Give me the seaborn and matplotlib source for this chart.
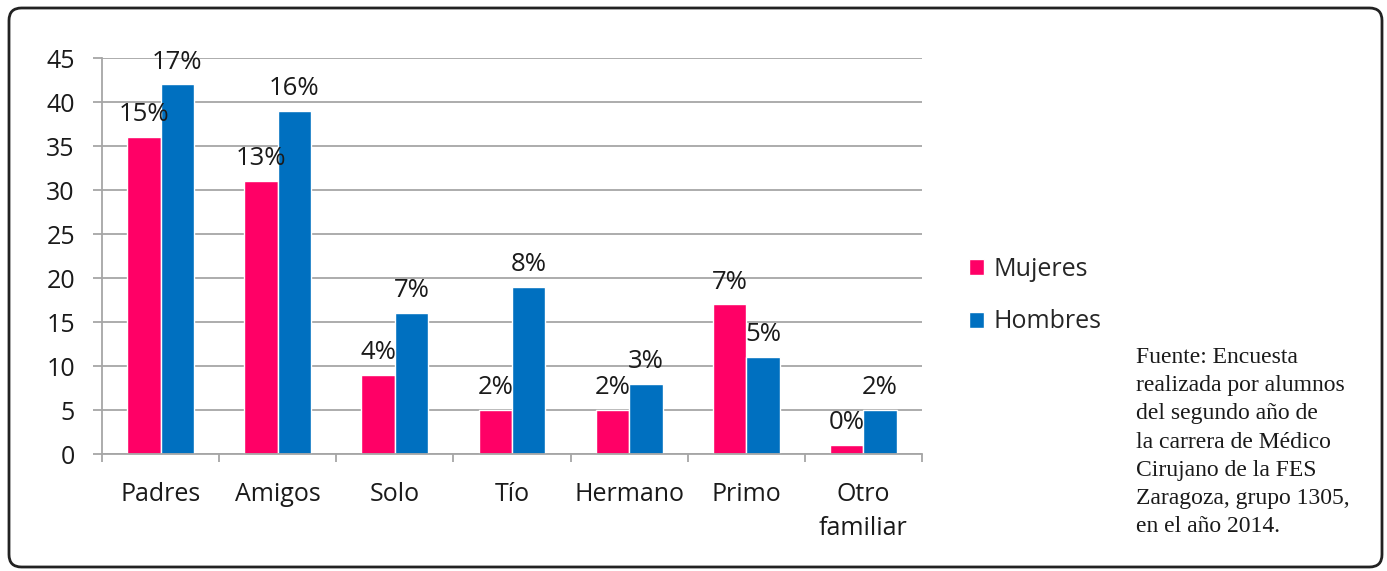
import pandas as pd
import matplotlib.pyplot as plt
import seaborn as sns
from matplotlib.patches import FancyBboxPatch

sns.set_theme(style='white')
plt.rcParams['font.family'] = ['Open Sans', 'DejaVu Sans']

categorias = ['Padres', 'Amigos', 'Solo', 'Tío', 'Hermano', 'Primo', 'Otro\nfamiliar']
mujeres = [36, 31, 9, 5, 5, 17, 1]
hombres = [42, 39, 16, 19, 8, 11, 5]
pct_mujeres = ['15%', '13%', '4%', '2%', '2%', '7%', '0%']
pct_hombres = ['17%', '16%', '7%', '8%', '3%', '5%', '2%']
series = ['Mujeres', 'Hombres']
colores = ['#FF0066', '#0070C0']
y_ticks = [0, 5, 10, 15, 20, 25, 30, 35, 40, 45]

fuente = ('Fuente: Encuesta\nrealizada por alumnos\ndel segundo año de\n'
          'la carrera de Médico\nCirujano de la FES\nZaragoza, grupo 1305,\n'
          'en el año 2014.')


def main():
    W, H = 1387, 571
    fig = plt.figure(figsize=(W / 100, H / 100), dpi=100)
    ax = fig.add_axes([102 / W, 1 - 454 / H, (922 - 102) / W, (454 - 58) / H])

    df = pd.DataFrame({
        'lugar': categorias * 2,
        'n': mujeres + hombres,
        'sexo': [series[0]] * len(categorias) + [series[1]] * len(categorias),
    })

    sns.barplot(data=df, x='lugar', y='n', hue='sexo', palette=colores,
                width=0.57, saturation=1, ax=ax, errorbar=None)

    for cont, labs in zip(ax.containers, [pct_mujeres, pct_hombres]):
        ax.bar_label(cont, labels=labs, padding=7, fontsize=18.5, color='#1a1a1a')

    ax.set_ylim(0, 45)
    ax.set_xlim(-0.5, len(categorias) - 0.5)
    ax.set_yticks(y_ticks)
    ax.set_xlabel('')
    ax.set_ylabel('')
    ax.grid(axis='y', color='#a6a6a6', linewidth=1.3)
    ax.set_axisbelow(True)
    for s in ['top', 'right']:
        ax.spines[s].set_visible(False)
    for s in ['left', 'bottom']:
        ax.spines[s].set_color('#a6a6a6')
        ax.spines[s].set_linewidth(1.3)

    ax.tick_params(axis='y', which='major', left=True, length=6.5, width=1.3,
                   color='#a6a6a6', pad=13, labelsize=18, labelcolor='#1a1a1a')
    ax.set_xticks([i + 0.5 for i in range(-1, len(categorias))], minor=True)
    ax.tick_params(axis='x', which='minor', bottom=True, length=6, width=1.3,
                   color='#a6a6a6')
    ax.tick_params(axis='x', which='major', bottom=False, length=0, pad=20,
                   labelsize=18, labelcolor='#1a1a1a')
    for lab in ax.get_xticklabels():
        lab.set_linespacing(1.48)

    handles, _ = ax.get_legend_handles_labels()
    ax.legend(handles, series, loc='upper left',
              bbox_to_anchor=(969 / W, 1 - 257 / H), bbox_transform=fig.transFigure,
              frameon=False, fontsize=18, handlelength=0.6, handleheight=0.6,
              handletextpad=0.4, labelspacing=1.1, borderpad=0, borderaxespad=0)

    fig.text(1136 / W, 1 - 347 / H, fuente, ha='left', va='top',
             family=['Liberation Serif'], fontsize=17, linespacing=1.45,
             color='#1a1a1a')

    borde = FancyBboxPatch((9 / W, 1 - 567 / H), (1382 - 9) / W, (567 - 8) / H,
                           boxstyle='round,pad=0,rounding_size=0.009',
                           mutation_aspect=W / H, transform=fig.transFigure,
                           facecolor='none', edgecolor='#222222', linewidth=2)
    fig.patches.append(borde)

    fig.savefig('out.png', dpi=100)


if __name__ == '__main__':
    main()
